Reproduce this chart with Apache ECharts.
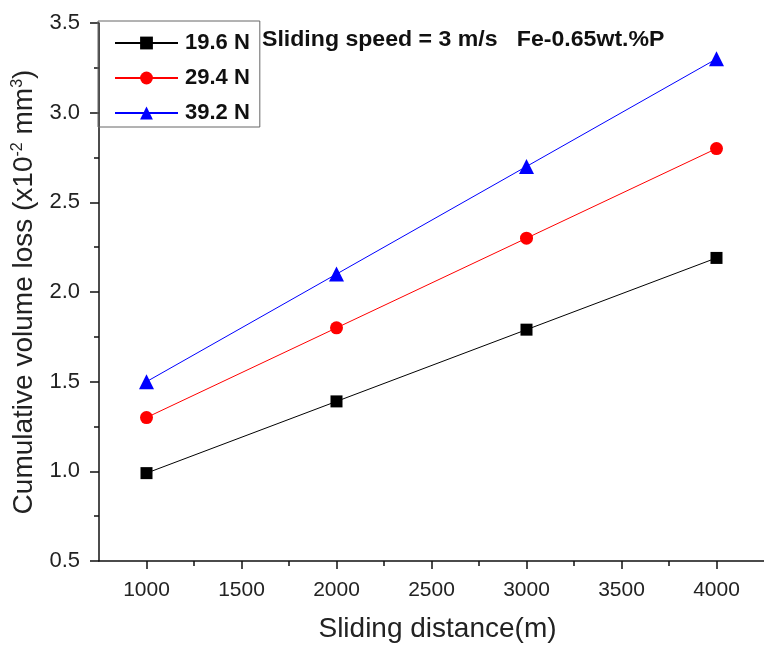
<!DOCTYPE html>
<html>
<head>
<meta charset="utf-8">
<script src="https://cdn.jsdelivr.net/npm/echarts@6/dist/echarts.min.js"></script>
<style>
  html, body { margin: 0; padding: 0; background: #fff; }
  #chart { width: 764px; height: 648px; }
</style>
</head>
<body>
<div id="chart"></div>
<script>
// Sliding wear data: cumulative volume loss vs sliding distance
const distances = [1000, 2000, 3000, 4000];
const load196 = [0.99, 1.39, 1.79, 2.19];
const load294 = [1.30, 1.80, 2.30, 2.80];
const load392 = [1.50, 2.10, 2.70, 3.30];
const seriesNames = ['19.6 N', '29.4 N', '39.2 N'];
const xTickValues = [1000, 1500, 2000, 2500, 3000, 3500, 4000];
const xMinorValues = [1250, 1750, 2250, 2750, 3250, 3750];

const FONT = '"Liberation Sans", Arial, sans-serif';
const chart = echarts.init(document.getElementById('chart'));

function pairs(vals) {
  return distances.map((d, i) => [d, vals[i]]);
}

const axisLine = { show: true, lineStyle: { color: '#111', width: 1.5 } };
const tickStyle = { color: '#111', width: 1.5 };

chart.setOption({
  animation: false,
  backgroundColor: '#fff',
  textStyle: { fontFamily: FONT },
  grid: { left: 99, right: -7, top: 23, bottom: 86, containLabel: false },
  legend: {
    orient: 'vertical',
    left: 98,
    top: 21,
    padding: [11, 10, 3, 16],
    itemGap: 13,
    itemWidth: 63,
    itemHeight: 16,
    borderColor: '#666',
    borderWidth: 1,
    data: seriesNames,
    textStyle: { fontFamily: FONT, fontSize: 22, fontWeight: 'bold', color: '#111', padding: [0, 0, 0, 2] }
  },
  xAxis: [
    {
      type: 'value',
      min: 750,
      max: 4250,
      axisLine: axisLine,
      splitLine: { show: false },
      axisTick: { show: true, length: 8, customValues: xTickValues, lineStyle: tickStyle },
      axisLabel: { customValues: xTickValues, fontSize: 21, color: '#222', margin: 19,
                   fontFamily: FONT, formatter: v => String(v) },
      name: 'Sliding distance(m)',
      nameLocation: 'middle',
      nameGap: 54,
      nameTextStyle: { fontSize: 28, color: '#222', fontFamily: FONT, padding: [0, 0, 0, 12] }
    },
    {
      type: 'value',
      min: 750,
      max: 4250,
      position: 'bottom',
      axisLine: { show: false },
      splitLine: { show: false },
      axisTick: { show: true, length: 5, customValues: xMinorValues, lineStyle: tickStyle },
      axisLabel: { show: false }
    }
  ],
  yAxis: {
    type: 'value',
    min: 0.5,
    max: 3.5,
    interval: 0.5,
    axisLine: axisLine,
    splitLine: { show: false },
    axisTick: { show: true, length: 9, lineStyle: tickStyle },
    minorTick: { show: true, splitNumber: 2, length: 5, lineStyle: tickStyle },
    axisLabel: { fontSize: 22, color: '#222', margin: 19, fontFamily: FONT,
                 formatter: v => v.toFixed(1) },
    name: 'Cumulative volume loss (x10{sup|-2} mm{sup|3})',
    nameLocation: 'middle',
    nameGap: 54,
    nameRotate: 90,
    nameTextStyle: {
      fontSize: 28, color: '#222', fontFamily: FONT,
      rich: { sup: { fontSize: 16, color: '#222', fontFamily: FONT, padding: [0, 0, 14, 0] } }
    }
  },
  graphic: [
    {
      type: 'text',
      x: 262,
      y: 29,
      scaleX: 1.05,
      style: {
        text: 'Sliding speed = 3 m/s   Fe-0.65wt.%P',
        font: 'bold 22px ' + FONT,
        fill: '#111'
      }
    }
  ],
  series: [
    { name: seriesNames[0], type: 'line', data: pairs(load196), symbol: 'rect', symbolSize: 12,
      itemStyle: { color: '#000' }, lineStyle: { color: '#000', width: 1 } },
    { name: seriesNames[1], type: 'line', data: pairs(load294), symbol: 'circle', symbolSize: 13,
      itemStyle: { color: '#ff0000' }, lineStyle: { color: '#ff0000', width: 1 } },
    { name: seriesNames[2], type: 'line', data: pairs(load392), symbol: 'triangle', symbolSize: 15,
      itemStyle: { color: '#0000ff' }, lineStyle: { color: '#0000ff', width: 1 } }
  ]
});
</script>
</body>
</html>
